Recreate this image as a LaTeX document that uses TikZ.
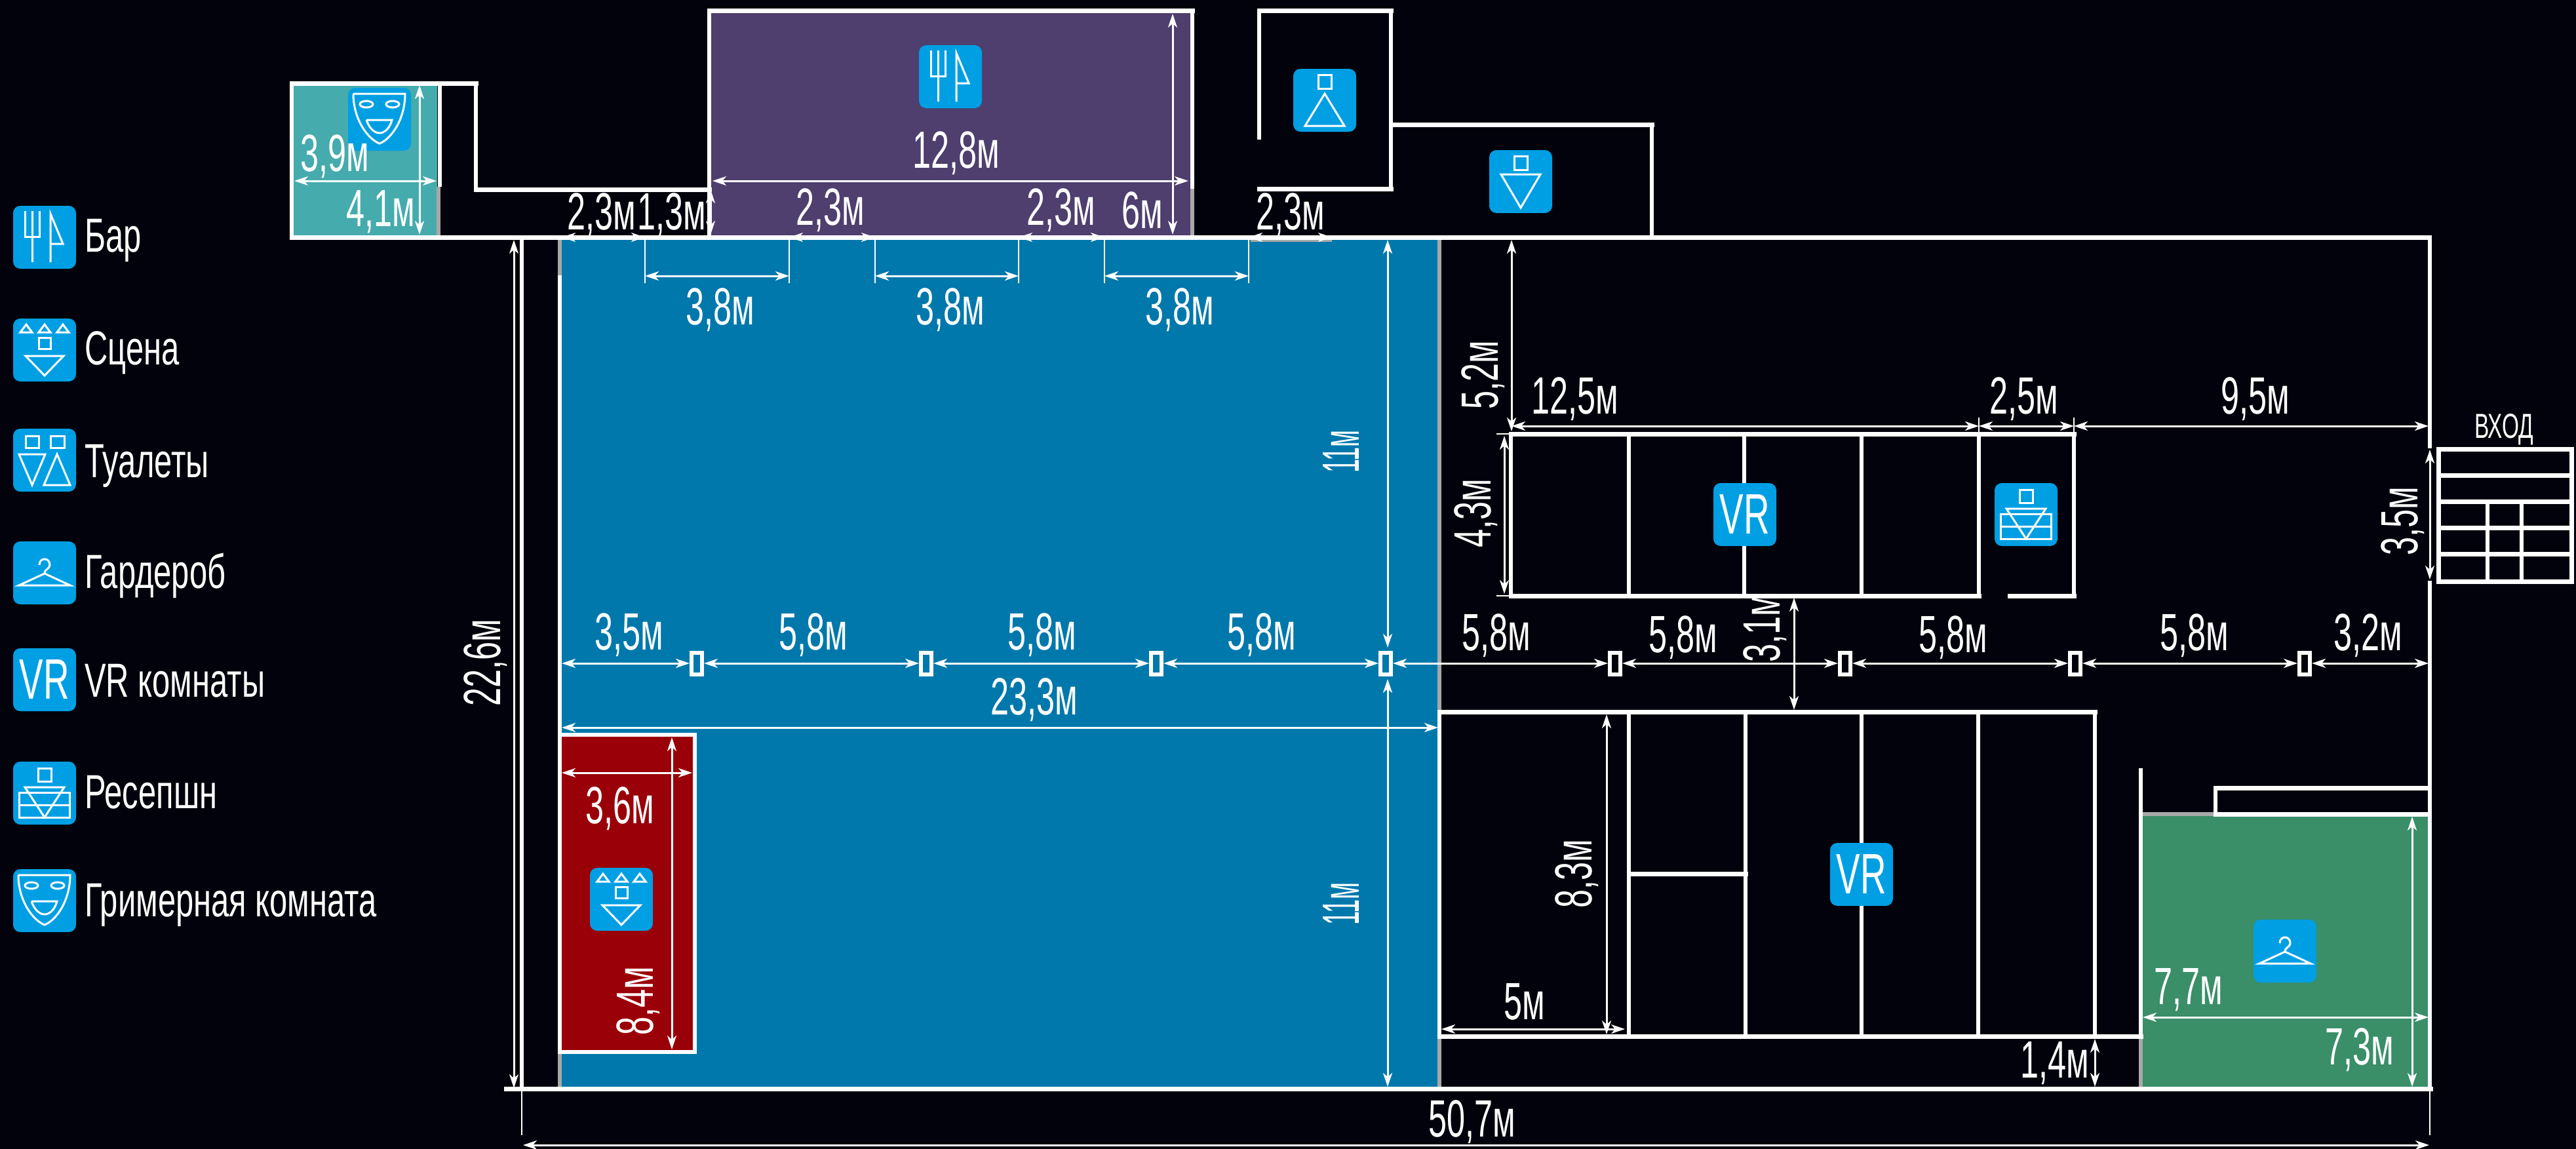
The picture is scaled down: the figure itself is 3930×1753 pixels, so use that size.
\documentclass[tikz,border=0pt]{standalone}
\usepackage{fontspec}
\setmainfont{Liberation Sans}
\newfontfamily\dimfont[FakeStretch=0.63]{Liberation Sans}
\newfontfamily\legfont[FakeStretch=0.67]{Liberation Sans}
\usetikzlibrary{arrows.meta}
\definecolor{bgc}{HTML}{02020C}
\definecolor{hallc}{HTML}{0078AB}
\definecolor{redc}{HTML}{9A0008}
\definecolor{barc}{HTML}{4E3F6E}
\definecolor{tealc}{HTML}{46ABAD}
\definecolor{greenc}{HTML}{3A8E68}
\definecolor{iconc}{HTML}{009FE3}
\definecolor{doorc}{HTML}{A8A8A8}
\newcounter{lc}
\newcommand{\lbl}[3]{\stepcounter{lc}\node[dimtext] (l\thelc) at (#1,#2+5) {#3};}
\newcommand{\rlbl}[3]{\stepcounter{lc}\node[dimtext,rotate=90] (l\thelc) at (#1+4,#2) {#3};}
\newcommand{\legl}[3]{\stepcounter{lc}\node[legtext] (l\thelc) at (#1,#2) {#3};}
\newcommand{\col}[1]{\draw[colbox] (#1-8,996) rectangle (#1+8,1029);}
\tikzset{
 x=1pt,y=-1pt,
 hwall/.style={draw=white,line width=7pt,line cap=rect},
 vwall/.style={draw=white,line width=5.5pt},
 doorline/.style={draw=doorc,line width=6pt},
 dimline/.style={draw=white,line width=3pt,{Stealth[length=21pt,width=14pt,inset=6pt]}-{Stealth[length=21pt,width=14pt,inset=6pt]}},
 thinline/.style={draw=white,line width=2.5pt},
 colbox/.style={draw=white,line width=6pt},
 dimtext/.style={text=white,inner sep=0pt,font=\dimfont\fontsize{80}{80}\selectfont},
 legtext/.style={text=white,inner sep=0pt,anchor=base west,font=\legfont\fontsize{73}{73}\selectfont},
 glyph/.style={draw=white,line width=3pt,line join=miter},
 iconbg/.pic={\fill[iconc,rounded corners=11pt] (-48,-48) rectangle (48,48);},
 iconbar/.pic={\pic {iconbg};
   \draw[glyph] (-30,-40)--(-30,-1)--(-8,-1)--(-8,-40) (-19,-40)--(-19,38);
   \draw[glyph] (9,38)--(9,-36)--(28,10)--(9,10);},
 iconstage/.pic={\pic {iconbg};
   \foreach \q in {-28,0,28}{\draw[glyph] (\q-9,-27)--(\q,-39)--(\q+9,-27)--cycle;}
   \draw[glyph] (-9,-19) rectangle (9,-2);
   \draw[glyph] (-29,9)--(29,9)--(0,39)--cycle;},
 iconwc/.pic={\pic {iconbg};
   \draw[glyph] (-29,-37) rectangle (-9,-19) (9,-37) rectangle (30,-19);
   \draw[glyph] (-39,-9)--(1,-9)--(-19,38)--cycle;
   \draw[glyph] (19,-9)--(39,38)--(-1,38)--cycle;},
 iconfemale/.pic={\pic {iconbg};
   \draw[glyph] (-10,-39) rectangle (10,-18);
   \draw[glyph] (0,-10)--(30,39)--(-30,39)--cycle;},
 iconmale/.pic={\pic {iconbg};
   \draw[glyph] (-10,-39) rectangle (10,-18);
   \draw[glyph] (-30,-11)--(30,-11)--(0,40)--cycle;},
 iconhanger/.pic={\pic {iconbg};
   \draw[glyph] (-8,-12) .. controls (-8,-24) and (8,-24) .. (8,-12) .. controls (8,-6) and (0,-6) .. (0,1);
   \draw[glyph] (0,1)--(39,19)--(-39,19)--cycle;},
 iconvr/.pic={\pic {iconbg};
   \node[text=white,inner sep=0pt,font=\dimfont\fontsize{87}{87}\selectfont] at (0,0) {VR};},
 iconrecep/.pic={\pic {iconbg};
   \draw[glyph] (-10,-38) rectangle (10,-18);
   \draw[glyph] (-39,-1) rectangle (38,37) (-39,18)--(38,18);
   \draw[glyph] (-30,-9)--(30,-9)--(0,37)--cycle;},
 iconmask/.pic={\pic {iconbg};
   \draw[glyph] (-40,-39)--(39,-39) .. controls (39,0) and (18,30) .. (0,37) .. controls (-18,30) and (-40,0) .. (-40,-39);
   \draw[glyph] (-20,-23) ellipse[x radius=10,y radius=5];
   \draw[glyph] (20,-23) ellipse[x radius=10,y radius=5];
   \draw[glyph] (-20,1)--(19,1) .. controls (15,16) and (6,21) .. (0,21) .. controls (-6,21) and (-15,16) .. (-20,1);},
}
\begin{document}
\begin{tikzpicture}
\path[use as bounding box,fill=bgc] (0,0) rectangle (3930,1753);
% room fills
\fill[tealc] (448,130) rectangle (667,360);
\fill[barc] (1082,20) rectangle (1819,360);
\fill[hallc] (854,362) rectangle (2196,1660);
\fill[redc] (854,1121) rectangle (1060,1605);
\fill[greenc] (3267,1243) rectangle (3707,1660);
% door openings
\draw[doorline] (669,285)--(669,360);
\draw[doorline] (1819,288)--(1819,360);
\draw[doorline] (854,364)--(854,420);
\draw[doorline] (854,1605)--(854,1660);
\draw[doorline] (2196,364)--(2196,1086);
\draw[doorline] (2196,1581)--(2196,1660);
\draw[doorline] (3266,1581)--(3266,1660);
\draw[doorline] (3268,1242)--(3380,1242);
\draw[draw=doorc,line width=3pt] (1908,367)--(2032,367);
% outer walls
\draw[hwall] (445,362)--(3706,362);
\draw[hwall] (772,1661)--(3708,1661);
\draw[vwall] (445,127)--(445,362);
\draw[hwall] (445,127)--(726,127);
\draw[vwall] (671,127)--(671,285);
\draw[vwall] (726,127)--(726,289);
\draw[hwall] (726,289)--(1082,289);
\draw[vwall] (1082,17)--(1082,362);
\draw[hwall] (1082,17)--(1819,17);
\draw[vwall] (1819,17)--(1819,288);
\draw[vwall] (796,362)--(796,1661);
\draw[vwall] (854,420)--(854,1122);
% toilets
\draw[hwall] (1921,17)--(2122,17);
\draw[vwall] (1921,17)--(1921,213);
\draw[vwall] (2122,17)--(2122,288);
\draw[hwall] (1921,288)--(2122,288);
\draw[hwall] (2122,190)--(2520,190);
\draw[vwall] (2520,190)--(2520,362);
% right wall
\draw[vwall] (3707,362)--(3707,684);
\draw[vwall] (3707,886)--(3707,1661);
% entrance
\draw[hwall] (3720,685) rectangle (3923,887);
\foreach \yy in {725,765,805,845}{\draw[hwall] (3720,\yy)--(3923,\yy);}
\draw[vwall] (3795,765)--(3795,887);
\draw[vwall] (3847,765)--(3847,887);
% upper VR block
\draw[hwall] (2305,662)--(3164,662);
\draw[hwall] (2305,909)--(3019,909);
\draw[hwall] (3066,909)--(3164,909);
\foreach \xx in {2305,2485,2661,2840,3019,3164}{\draw[vwall] (\xx,662)--(\xx,909);}
\draw[thinline] (2283,662)--(2305,662) (2283,909)--(2305,909) (3019,637)--(3019,662) (3164,637)--(3164,662);
% lower VR block
\draw[hwall] (2196,1086)--(3196,1086);
\draw[hwall] (2196,1581)--(3266,1581);
\foreach \xx in {2196,2485,2663,2840,3018,3196}{\draw[vwall] (\xx,1086)--(\xx,1581);}
\draw[hwall] (2485,1333)--(2663,1333);
% wardrobe
\draw[vwall] (3266,1172)--(3266,1581);
\draw[hwall] (3380,1242)--(3706,1242);
\draw[hwall] (3380,1202)--(3706,1202);
\draw[vwall] (3380,1202)--(3380,1242);
% stage
\draw[draw=white,line width=6.5pt] (854,1121) rectangle (1060,1605);
% extension lines
\foreach \xx in {984,1204,1335,1554,1685,1905}{\draw[thinline] (\xx,362)--(\xx,432);}
\draw[thinline] (796,1661)--(796,1732) (3707,1661)--(3707,1732);
% dimensions, top
\draw[dimline] (449,276)--(666,276);
\draw[dimline] (640,130)--(640,358);
\draw[dimline] (1084,289)--(1084,358);
\draw[dimline] (1087,276)--(1813,276);
\draw[dimline] (1789,21)--(1789,358);
\draw[dimline] (857,362)--(984,362);
\draw[dimline] (1204,362)--(1335,362);
\draw[dimline] (1554,362)--(1685,362);
\draw[dimline] (1905,362)--(2032,362);
\draw[dimline] (984,421)--(1204,421);
\draw[dimline] (1335,421)--(1554,421);
\draw[dimline] (1685,421)--(1905,421);
\draw[dimline] (784,366)--(784,1660);
\draw[thinline] (772,1661)--(796,1661);
\draw[dimline] (2117,366)--(2117,988);
\draw[dimline] (2117,1036)--(2117,1658);
\draw[dimline] (2306,366)--(2306,658);
\draw[dimline] (2295,665)--(2295,906);
\draw[dimline] (2306,650)--(3019,650);
\draw[dimline] (3019,650)--(3164,650);
\draw[dimline] (3164,650)--(3705,650);
\draw[dimline] (3707,686)--(3707,884);
% column row
\draw[dimline] (857,1012)--(1052,1012);
\draw[dimline] (1074,1012)--(1402,1012);
\draw[dimline] (1424,1012)--(1753,1012);
\draw[dimline] (1775,1012)--(2103,1012);
\draw[dimline] (2125,1012)--(2453,1012);
\draw[dimline] (2475,1012)--(2804,1012);
\draw[dimline] (2826,1012)--(3155,1012);
\draw[dimline] (3177,1012)--(3505,1012);
\draw[dimline] (3527,1012)--(3705,1012);
\col{1063}\col{1413}\col{1764}\col{2114}\col{2464}\col{2815}\col{3166}\col{3516}
\draw[dimline] (2737,912)--(2737,1083);
\draw[dimline] (857,1110)--(2194,1110);
\draw[dimline] (857,1179)--(1056,1179);
\draw[dimline] (1025,1125)--(1025,1601);
\draw[dimline] (2451,1090)--(2451,1578);
\draw[dimline] (2199,1570)--(2479,1570);
\draw[dimline] (3196,1585)--(3196,1658);
\draw[dimline] (3269,1552)--(3705,1552);
\draw[dimline] (3680,1246)--(3680,1658);
\draw[dimline] (798,1747)--(3706,1747);
% icons
\pic at (579,182) {iconmask};
\pic at (1450,117) {iconbar};
\pic at (2021,153) {iconfemale};
\pic at (2320,277) {iconmale};
\pic at (2662,785) {iconvr};
\pic at (3091,785) {iconrecep};
\pic at (2840,1334) {iconvr};
\pic at (3486,1451) {iconhanger};
\pic at (948,1372) {iconstage};
\pic at (68,362) {iconbar};
\pic at (68,534) {iconstage};
\pic at (68,702) {iconwc};
\pic at (68,874) {iconhanger};
\pic at (68,1037) {iconvr};
\pic at (68,1210) {iconrecep};
\pic at (68,1374) {iconmask};
% legend
\legl{129}{384}{Бар}
\legl{129}{556}{Сцена}
\legl{129}{728}{Туалеты}
\legl{129}{897}{Гардероб}
\legl{129}{1063}{VR комнаты}
\legl{129}{1233}{Ресепшн}
\legl{129}{1398}{Гримерная комната}
% dimension text
\lbl{511}{234}{3,9м}
\lbl{581}{318}{4,1м}
\lbl{918}{323}{2,3м}
\lbl{1025}{323}{1,3м}
\lbl{1459}{229}{12,8м}
\lbl{1267}{316}{2,3м}
\lbl{1619}{316}{2,3м}
\lbl{1743}{316}{6м}
\lbl{1969}{323}{2,3м}
\lbl{1099}{468}{3,8м}
\lbl{1450}{468}{3,8м}
\lbl{1800}{468}{3,8м}
\rlbl{2259}{572}{5,2м}
\lbl{2403}{604}{12,5м}
\lbl{3088}{604}{2,5м}
\lbl{3441}{604}{9,5м}
\rlbl{2248}{783}{4,3м}
\rlbl{3662}{795}{3,5м}
\rlbl{2042}{689}{\scalebox{0.75}[1]{11м}}
\rlbl{2042}{1379}{\scalebox{0.75}[1]{11м}}
\rlbl{737}{1011}{22,6м}
\lbl{960}{964}{3,5м}
\lbl{1241}{964}{5,8м}
\lbl{1590}{964}{5,8м}
\lbl{1925}{964}{5,8м}
\lbl{2283}{965}{5,8м}
\lbl{2568}{968}{5,8м}
\lbl{2980}{968}{5,8м}
\lbl{3348}{965}{5,8м}
\lbl{3613}{965}{3,2м}
\rlbl{2689}{958}{3,1м}
\lbl{1578}{1063}{23,3м}
\lbl{946}{1229}{3,6м}
\rlbl{970}{1527}{8,4м}
\rlbl{2402}{1333}{8,3м}
\lbl{2326}{1523}{5м}
\lbl{3135}{1617}{1,4м}
\lbl{3339}{1505}{7,7м}
\lbl{3600}{1597}{7,3м}
\lbl{2246}{1707}{50,7м}
\stepcounter{lc}\node[text=white,inner sep=0pt,font=\dimfont\fontsize{53}{53}\selectfont] (l\thelc) at (3820,655) {ВХОД};
\end{tikzpicture}
\end{document}
